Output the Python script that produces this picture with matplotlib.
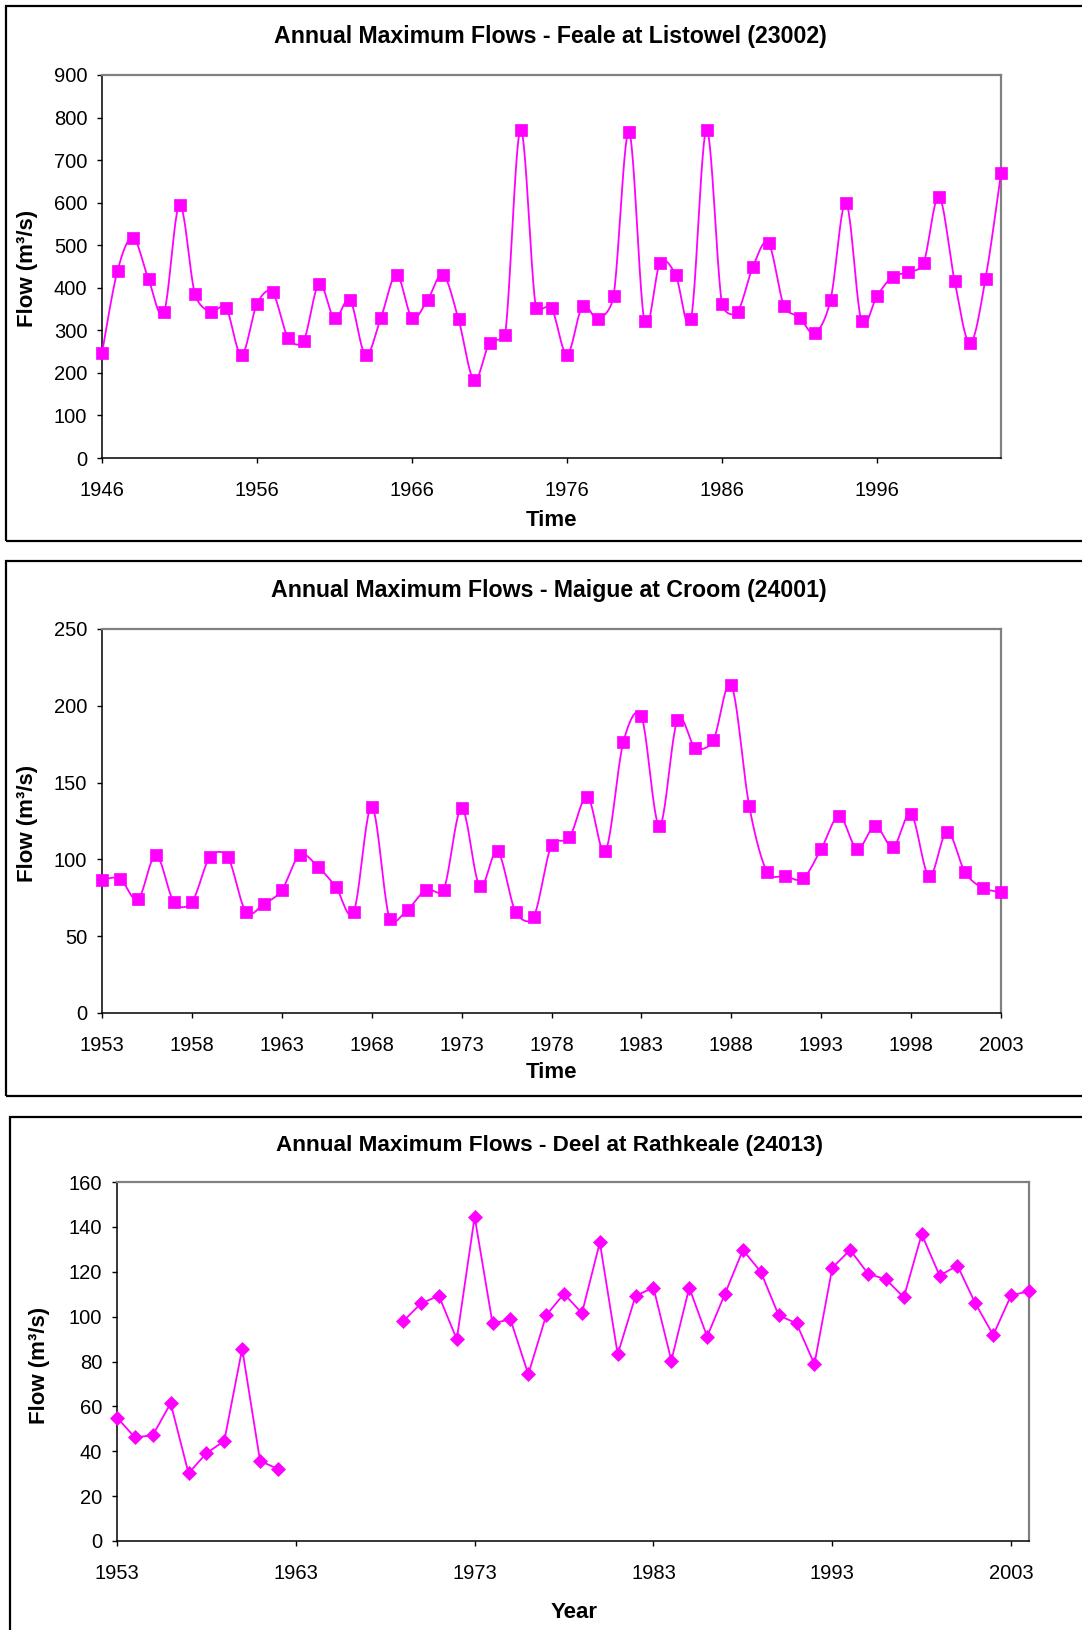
import numpy as np
import matplotlib
matplotlib.use("Agg")
import matplotlib.pyplot as plt
from matplotlib.patches import Rectangle

plt.rcParams['font.family'] = ['Liberation Sans', 'DejaVu Sans']

W, H = 1082, 1630
MAGENTA = '#FF00FF'

# Feale at Listowel (23002)
feale_years = list(range(1946, 2005))
feale_flow = [247, 440, 518, 420, 343, 595, 385, 343, 353, 242,
              362, 389, 283, 275, 409, 328, 371, 242, 330, 431,
              330, 371, 431, 326, 183, 270, 288, 771, 352, 352,
              243, 357, 326, 380, 766, 321, 458, 431, 326, 771,
              362, 344, 450, 505, 357, 330, 293, 371, 600, 321,
              381, 426, 436, 458, 614, 417, 270, 421, 669]

# Maigue at Croom (24001)
maigue_years = list(range(1953, 2004))
maigue_flow = [86.6, 87.4, 74.0, 102.7, 72.3, 72.3, 101.4, 101.4, 66.0, 71.0,
               80.1, 102.9, 95.3, 82.2, 66.0, 134.3, 61.0, 67.3, 80.1, 80.1,
               133.2, 82.7, 105.2, 66.0, 62.3, 109.4, 114.4, 140.8, 105.5, 176.6,
               193.1, 121.9, 190.5, 172.7, 177.7, 213.5, 134.5, 91.6, 89.0, 87.7,
               106.8, 128.2, 106.8, 121.9, 108.1, 129.5, 89.0, 118.0, 91.6, 81.4,
               78.8]

# Deel at Rathkeale (24013), no record 1963-1968
deel_years = list(range(1953, 2005))
deel_flow = [55.0, 46.2, 47.1, 61.4, 30.2, 39.1, 44.6, 85.7, 35.7, 32.1,
             None, None, None, None, None, None,
             97.9, 105.9, 109.3, 89.9, 144.5, 97.0, 98.8, 74.3, 100.6, 110.2,
             101.5, 133.1, 83.2, 109.3, 112.9, 80.4, 112.9, 91.1, 110.2, 129.7,
             120.0, 100.6, 97.0, 78.8, 121.8, 129.7, 119.1, 116.6, 108.6, 136.7,
             118.3, 122.7, 105.9, 91.8, 109.5, 111.3]


def smooth(ax, xs, ys, n=24):
    # Excel-like smoothed line, built in pixel space so the control
    # points can be clamped to half the segment length
    pts = ax.transData.transform(np.column_stack([xs, ys]).astype(float))
    P = np.vstack([pts[:1], pts, pts[-1:]])
    t = np.linspace(0, 1, n)[:, None]
    out = []
    for i in range(len(pts) - 1):
        p0, p1, p2, p3 = P[i], P[i + 1], P[i + 2], P[i + 3]
        d12 = np.hypot(*(p2 - p1))
        d02 = np.hypot(*(p2 - p0))
        d13 = np.hypot(*(p3 - p1))
        f1 = 1 / 6 if d02 == 0 else min(1 / 6, d12 / (2 * d02))
        f2 = 1 / 6 if d13 == 0 else min(1 / 6, d12 / (2 * d13))
        c1 = p1 + f1 * (p2 - p0)
        c2 = p2 - f2 * (p3 - p1)
        seg = ((1 - t) ** 3) * p1 + 3 * ((1 - t) ** 2) * t * c1 \
            + 3 * (1 - t) * t ** 2 * c2 + t ** 3 * p2
        out.append(seg if i == 0 else seg[1:])
    data = ax.transData.inverted().transform(np.vstack(out))
    return data[:, 0], data[:, 1]


def fx(x):
    return x / W


def fy(y):
    return 1 - y / H


def style_axes(ax):
    for side in ['left', 'bottom']:
        ax.spines[side].set_color('black')
        ax.spines[side].set_linewidth(1.1)
    for side in ['top', 'right']:
        ax.spines[side].set_color('#808080')
        ax.spines[side].set_linewidth(1.6)
    ax.tick_params(axis='both', direction='out', length=3.6, width=1,
                   labelsize=14.5, colors='black')
    ax.tick_params(axis='x', pad=13)
    ax.tick_params(axis='y', pad=7)


fig = plt.figure(figsize=(W / 100, H / 100), dpi=100)

# panel frames
for (x0, y0, x1, y1) in [(6, 6, 1090, 541), (6, 561, 1090, 1096), (10, 1117, 1090, 1640)]:
    fig.patches.append(Rectangle((fx(x0), fy(y1)), fx(x1 - x0), (y1 - y0) / H,
                                 transform=fig.transFigure, fill=False,
                                 edgecolor='black', linewidth=1.6))

# Panel 1
ax1 = fig.add_axes([fx(102), fy(458), 899 / W, 383 / H])
ax1.set_xlim(1946, 2004)
ax1.set_ylim(0, 900)
sx, sy = smooth(ax1, feale_years, feale_flow)
ax1.plot(sx, sy, color=MAGENTA, lw=1.3, clip_on=False, zorder=3)
ax1.plot(feale_years, feale_flow, ls='none', marker='s', ms=8, mfc=MAGENTA,
         mec=MAGENTA, mew=0.5, clip_on=False, zorder=4)
ax1.set_xticks(range(1946, 2000, 10))
ax1.set_yticks(range(0, 901, 100))
style_axes(ax1)

# Panel 2
ax2 = fig.add_axes([fx(102), fy(1013), 899 / W, 384 / H])
ax2.set_xlim(1953, 2003)
ax2.set_ylim(0, 250)
sx, sy = smooth(ax2, maigue_years, maigue_flow)
ax2.plot(sx, sy, color=MAGENTA, lw=1.3, clip_on=False, zorder=3)
ax2.plot(maigue_years, maigue_flow, ls='none', marker='s', ms=8, mfc=MAGENTA,
         mec=MAGENTA, mew=0.5, clip_on=False, zorder=4)
ax2.set_xticks(range(1953, 2004, 5))
ax2.set_yticks(range(0, 251, 50))
style_axes(ax2)

# Panel 3
ax3 = fig.add_axes([fx(117), fy(1541), 912 / W, 359 / H])
deel = np.array([np.nan if v is None else v for v in deel_flow])
ax3.plot(deel_years, deel, color=MAGENTA, lw=1.3, marker='D', ms=7,
         mfc=MAGENTA, mec=MAGENTA, mew=0.5, clip_on=False, zorder=3)
ax3.set_xlim(1953, 2004)
ax3.set_ylim(0, 160)
ax3.set_xticks(range(1953, 2004, 10))
ax3.set_yticks(range(0, 161, 20))
style_axes(ax3)

# titles and axis labels
title_kw = dict(ha='center', va='center', fontweight='bold')
fig.text(fx(550), fy(36), 'Annual Maximum Flows - Feale at Listowel (23002)',
         fontsize=16.7, **title_kw)
fig.text(fx(549), fy(591), 'Annual Maximum Flows - Maigue at Croom (24001)',
         fontsize=16.7, **title_kw)
fig.text(fx(550), fy(1146), 'Annual Maximum Flows - Deel at Rathkeale (24013)',
         fontsize=16.2, **title_kw)

lab_kw = dict(ha='center', va='center', fontsize=16, fontweight='bold')
fig.text(fx(552), fy(520), 'Time', **lab_kw)
fig.text(fx(552), fy(1073), 'Time', **lab_kw)
fig.text(fx(574), fy(1612), 'Year', **lab_kw)

ylab_kw = dict(ha='center', va='center', fontsize=16, fontweight='bold', rotation=90)
fig.text(fx(27), fy(268), 'Flow (m³/s)', **ylab_kw)
fig.text(fx(27), fy(823), 'Flow (m³/s)', **ylab_kw)
fig.text(fx(40), fy(1365), 'Flow (m³/s)', **ylab_kw)

fig.savefig('out.png', dpi=100)
